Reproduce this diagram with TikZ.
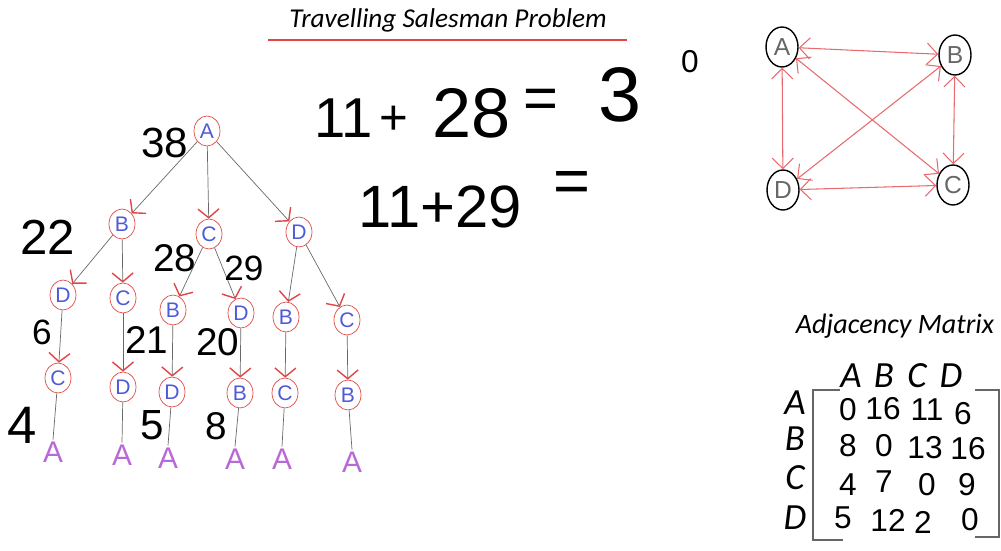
\documentclass[tikz,border=0pt]{standalone}
\usepackage{fontspec}
\setmainfont{Liberation Sans}
\newfontfamily\titlefont{Carlito}
\usetikzlibrary{arrows.meta,shapes.geometric}
\definecolor{ink}{RGB}{225,70,70}
\definecolor{letr}{RGB}{80,90,215}
\definecolor{leafc}{RGB}{185,105,215}
\definecolor{wire}{RGB}{105,105,105}
\definecolor{link}{RGB}{232,105,110}

\begin{document}
\begin{tikzpicture}[
        x=0.02cm, y=-0.02cm,
        tnode/.style={ellipse, draw=ink, minimum width=0.52cm, minimum height=0.6cm, inner sep=0pt, text=letr, font=\fontsize{12}{12}\selectfont},
        leaf/.style={text=leafc, inner sep=1pt, font=\fontsize{17}{17}\selectfont},
        tedge/.style={draw=wire, -{Straight Barb[ink, length=5pt, width=12pt, line width=0.8pt]}},
        tline/.style={draw=wire},
        hand/.style={inner sep=0pt, font=\fontsize{#1}{#1}\selectfont},
        gnode/.style={ellipse, draw, thick, minimum width=0.64cm, minimum height=0.8cm, inner sep=0pt, text=black!60, font=\fontsize{14}{14}\selectfont},
        gedge/.style={draw=link, semithick, {Straight Barb[length=6pt, width=12pt]}-{Straight Barb[length=6pt, width=12pt]}},
        heading/.style={inner sep=0pt, font=\titlefont\itshape\fontsize{#1}{#1}\selectfont},
    ]
        \useasboundingbox (0,0) rectangle (1001,551);

        % Title
        \node[heading=15.5] (title) at (448,20) {Travelling Salesman Problem};
        \draw[ink, line width=1.2pt] (268,40) -- (627,40);

        % Tree of tours from A
        \node[tnode] (rA) at (207,131) {A};
        \node[tnode] (lB) at (122,224) {B};
        \node[tnode] (lC) at (209,234) {C};
        \node[tnode] (lD) at (299,232) {D};

        \node[tnode] (bD) at (63,295) {D};
        \node[tnode] (bC) at (123,298) {C};
        \node[tnode] (cB) at (173,310) {B};
        \node[tnode] (cD) at (241,313) {D};
        \node[tnode] (dB) at (286,317) {B};
        \node[tnode] (dC) at (347,320) {C};

        \node[tnode] (bdC) at (58,378) {C};
        \node[tnode] (bcD) at (123,387) {D};
        \node[tnode] (cbD) at (172,392) {D};
        \node[tnode] (cdB) at (240,393) {B};
        \node[tnode] (dbC) at (285,393) {C};
        \node[tnode] (dcB) at (348,395) {B};

        \node[leaf] (a1) at (53,452) {A};
        \node[leaf] (a2) at (122,455) {A};
        \node[leaf] (a3) at (168,458) {A};
        \node[leaf] (a4) at (235,459) {A};
        \node[leaf] (a5) at (282,459) {A};
        \node[leaf] (a6) at (352,462) {A};

        \draw[tedge] (rA) -- (lB);
        \draw[tedge] (rA) -- (lC);
        \draw[tedge] (rA) -- (lD);
        \draw[tedge] (lB) -- (bD);
        \draw[tedge] (lB) -- (bC);
        \draw[tedge] (lC) -- (cB);
        \draw[tedge] (lC) -- (cD);
        \draw[tedge] (lD) -- (dB);
        \draw[tedge] (lD) -- (dC);
        \draw[tedge] (bD) -- (bdC);
        \draw[tedge] (bC) -- (bcD);
        \draw[tedge] (cB) -- (cbD);
        \draw[tedge] (cD) -- (cdB);
        \draw[tedge] (dB) -- (dbC);
        \draw[tedge] (dC) -- (dcB);
        \draw[tline] (bdC) -- (a1.north);
        \draw[tline] (bcD) -- (a2.north);
        \draw[tline] (cbD) -- (a3.north);
        \draw[tline] (cdB) -- (a4.north);
        \draw[tline] (dbC) -- (a5.north);
        \draw[tline] (dcB) -- (a6.north);

        % Costs written on the tree
        \node[hand=24] (k38) at (165,143) {38};
        \node[hand=28] (k22) at (48,237) {22};
        \node[hand=22] (k28) at (175,258) {28};
        \node[hand=20] (k29) at (244,268) {29};
        \node[hand=20] (k6) at (42,332) {6};
        \node[hand=22] (k21) at (147,340) {21};
        \node[hand=22] (k20) at (218,342) {20};
        \node[hand=30] (k4) at (22,425) {4};
        \node[hand=24] (k5) at (152,425) {5};
        \node[hand=22] (k8) at (216,426) {8};

        % Sums
        \node[hand=32] (e11) at (344,118) {11};
        \node[hand=28] (eplus) at (394,120) {+};
        \node[hand=40] (e28) at (472,113) {28};
        \node[hand=34] (eeq) at (541,104) {=};
        \node[hand=44] (e3) at (620,95) {3};
        \node[hand=18] (e0) at (690,62) {0};
        \node[hand=34] (f11) at (440,207) {11+29};
        \node[hand=36] (feq) at (572,187) {=};

        % Graph of the cities
        \node[gnode] (gA) at (782,47) {A};
        \node[gnode] (gB) at (955,55) {B};
        \node[gnode] (gD) at (783,190) {D};
        \node[gnode] (gC) at (953,185) {C};
        \draw[gedge] (gA) -- (gB);
        \draw[gedge] (gA) -- (gD);
        \draw[gedge] (gB) -- (gC);
        \draw[gedge] (gD) -- (gC);
        \draw[gedge] (gA) -- (gC);
        \draw[gedge] (gB) -- (gD);

        % Adjacency matrix
        \node[heading=16] (mtitle) at (895,326) {Adjacency Matrix};
        \node[heading=21] (hA) at (851,376) {A};
        \node[heading=21] (hB) at (884,376) {B};
        \node[heading=21] (hC) at (917,376) {C};
        \node[heading=21] (hD) at (951,376) {D};
        \node[heading=21] (vA) at (795,403) {A};
        \node[heading=21] (vB) at (795,439) {B};
        \node[heading=21] (vC) at (795,478) {C};
        \node[heading=21] (vD) at (795,518) {D};

        \draw[black!60, line width=1.5pt] (840,390) -- (813,390) -- (813,540) -- (843,540);
        \draw[black!60, line width=1.5pt] (975,390) -- (999,390) -- (999,537) -- (975,537);

        \node[hand=18] (m11) at (848,410) {0};
        \node[hand=18] (m12) at (883,409) {16};
        \node[hand=18] (m13) at (927,410) {11};
        \node[hand=18] (m14) at (963,414) {6};
        \node[hand=18] (m21) at (848,446) {8};
        \node[hand=18] (m22) at (884,446) {0};
        \node[hand=18] (m23) at (925,448) {13};
        \node[hand=18] (m24) at (968,449) {16};
        \node[hand=18] (m31) at (848,485) {4};
        \node[hand=18] (m32) at (884,482) {7};
        \node[hand=18] (m33) at (927,485) {0};
        \node[hand=18] (m34) at (967,485) {9};
        \node[hand=18] (m41) at (843,518) {5};
        \node[hand=18] (m42) at (888,520) {12};
        \node[hand=18] (m43) at (923,522) {2};
        \node[hand=18] (m44) at (970,520) {0};
    \end{tikzpicture}
\end{document}
